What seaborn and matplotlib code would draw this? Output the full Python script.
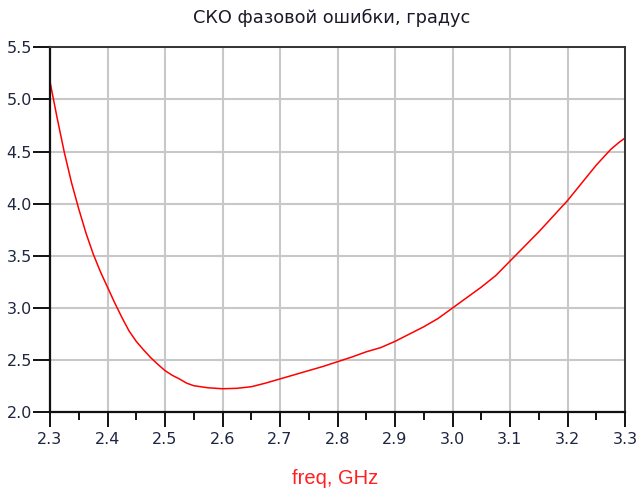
import numpy as np
import pandas as pd
import matplotlib
matplotlib.use("Agg")
import matplotlib.pyplot as plt
import seaborn as sns

# Data
freq = [2.3000, 2.3125, 2.3250, 2.3375, 2.3500, 2.3625, 2.3750, 2.3875,
        2.4000, 2.4125, 2.4250, 2.4375, 2.4500, 2.4625, 2.4750, 2.4875,
        2.5000, 2.5125, 2.5250, 2.5375, 2.5500, 2.5750, 2.6000, 2.6250,
        2.6500, 2.6750, 2.7000, 2.7250, 2.7500, 2.7750, 2.8000, 2.8250,
        2.8500, 2.8750, 2.9000, 2.9250, 2.9500, 2.9750, 3.0000, 3.0250,
        3.0500, 3.0750, 3.1000, 3.1250, 3.1500, 3.1750, 3.2000, 3.2250,
        3.2500, 3.2750, 3.2900, 3.3000]
sko = [5.17, 4.82, 4.49, 4.20, 3.95, 3.72, 3.52, 3.35,
       3.20, 3.05, 2.91, 2.78, 2.68, 2.60, 2.525, 2.46,
       2.40, 2.355, 2.32, 2.28, 2.255, 2.235, 2.226, 2.23,
       2.245, 2.28, 2.32, 2.36, 2.40, 2.44, 2.485, 2.53,
       2.58, 2.62, 2.68, 2.75, 2.82, 2.90, 3.00, 3.10,
       3.20, 3.31, 3.45, 3.59, 3.73, 3.88, 4.03, 4.20,
       4.37, 4.52, 4.59, 4.63]

xticks = [2.3, 2.4, 2.5, 2.6, 2.7, 2.8, 2.9, 3.0, 3.1, 3.2, 3.3]
xminor = [2.35, 2.45, 2.55, 2.65, 2.75, 2.85, 2.95, 3.05, 3.15, 3.25]
yticks = [2.0, 2.5, 3.0, 3.5, 4.0, 4.5, 5.0, 5.5]

title = "СКО фазовой ошибки, градус"
xlabel = "freq, GHz"

sns.set_style("white")
plt.rcParams['font.family'] = ['DejaVu Sans']

df = pd.DataFrame({"freq": freq, "sko": sko})

fig = plt.figure(figsize=(6.38, 4.93), dpi=100)
ax = fig.add_axes([50/638, 1-412.3/493, 575/638, 365/493])

sns.lineplot(data=df, x="freq", y="sko", ax=ax, color="#ff0000", linewidth=1.1)

ax.set_xlim(2.3, 3.3)
ax.set_ylim(2.0, 5.5)
ax.set_xticks(xticks)
ax.set_xticks(xminor, minor=True)
ax.set_yticks(yticks)
ax.set_xticklabels([f"{v:.1f}" for v in xticks])
ax.set_yticklabels([f"{v:.1f}" for v in yticks])

lab_col = "#1e2640"
ax.tick_params(axis="x", which="major", direction="out", length=10.5, width=1.4,
               color="#111111", labelsize=11.5, labelcolor=lab_col, pad=3.5, bottom=True)
ax.tick_params(axis="x", which="minor", direction="out", length=6, width=1.4,
               color="#111111", bottom=True)
ax.tick_params(axis="y", which="major", direction="out", length=12, width=1.4,
               color="#111111", labelsize=11.5, labelcolor=lab_col, pad=1, left=True)

ax.grid(True, which="major", color="#c8c8c8", linewidth=1.5)
ax.set_axisbelow(True)
for s in ["left", "bottom"]:
    ax.spines[s].set_color("#111111")
    ax.spines[s].set_linewidth(1.6)
for s in ["top", "right"]:
    ax.spines[s].set_color("#333333")
    ax.spines[s].set_linewidth(1.4)

ax.set_xlabel("")
ax.set_ylabel("")

fig.text(332/638, 1-18/493, title, ha="center", va="center",
         fontsize=12.8, color="#1a1a2a")
fig.text(335/638, 1-478/493, xlabel, ha="center", va="center",
         fontsize=14.5, color="#ff2020", family=["Liberation Sans", "DejaVu Sans"])

fig.savefig("out.png", dpi=100, facecolor="white")
